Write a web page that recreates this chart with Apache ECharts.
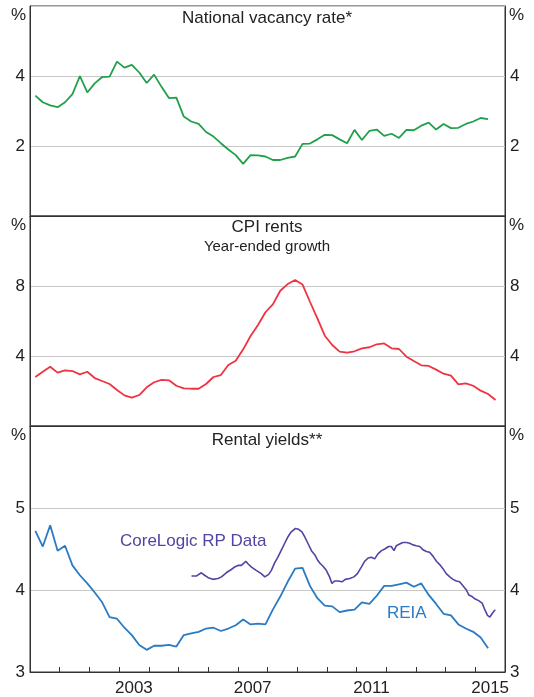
<!DOCTYPE html>
<html>
<head>
<meta charset="utf-8">
<script src="https://cdn.jsdelivr.net/npm/echarts@6/dist/echarts.min.js"></script>
<style>
  html, body { margin: 0; padding: 0; background: #fff; }
  #chart { width: 534px; height: 697px; }
</style>
</head>
<body>
<div id="chart"></div>
<script>
/** quarterly series start in March 2000 (decimal years) */
const quarterStart = 2000.18;

/** national vacancy rate, % */
const vacancyRate = [
  3.44, 3.25, 3.16, 3.11, 3.25, 3.48, 4.00, 3.53, 3.79, 3.97,
  3.98, 4.41, 4.24, 4.32, 4.10, 3.80, 4.04, 3.69, 3.37, 3.38,
  2.84, 2.70, 2.63, 2.40, 2.27, 2.08, 1.90, 1.74, 1.49, 1.74,
  1.73, 1.70, 1.60, 1.60, 1.66, 1.70, 2.06, 2.07, 2.19, 2.32,
  2.31, 2.19, 2.08, 2.46, 2.17, 2.43, 2.47, 2.29, 2.35, 2.23,
  2.46, 2.45, 2.58, 2.67, 2.47, 2.63, 2.51, 2.52, 2.63, 2.70,
  2.80, 2.77,
];

/** CPI rents, year-ended growth, % */
const cpiRents = [
  2.80, 3.10, 3.39, 3.05, 3.18, 3.14, 2.95, 3.10, 2.74, 2.57,
  2.40, 2.06, 1.75, 1.62, 1.77, 2.21, 2.50, 2.63, 2.61, 2.30,
  2.15, 2.13, 2.13, 2.40, 2.80, 2.91, 3.49, 3.73, 4.38, 5.14,
  5.77, 6.50, 6.95, 7.73, 8.11, 8.34, 8.08, 7.10, 6.15, 5.16,
  4.63, 4.25, 4.19, 4.27, 4.44, 4.50, 4.67, 4.72, 4.44, 4.40,
  3.96, 3.71, 3.47, 3.43, 3.22, 2.99, 2.88, 2.38, 2.44, 2.30,
  2.02, 1.83, 1.49,
];

/** REIA rental yield, % */
const reiaYield = [
  4.72, 4.53, 4.79, 4.48, 4.54, 4.30, 4.18, 4.08, 3.97, 3.85,
  3.67, 3.65, 3.54, 3.45, 3.33, 3.27, 3.32, 3.32, 3.33, 3.31,
  3.45, 3.47, 3.49, 3.53, 3.54, 3.50, 3.53, 3.57, 3.64, 3.58,
  3.59, 3.58, 3.76, 3.92, 4.10, 4.26, 4.27, 4.05, 3.90, 3.81,
  3.80, 3.73, 3.75, 3.76, 3.85, 3.83, 3.93, 4.05, 4.05, 4.07,
  4.09, 4.04, 4.08, 3.94, 3.83, 3.71, 3.69, 3.58, 3.53, 3.49,
  3.42, 3.29,
];

/** CoreLogic RP Data rental yield, irregular dates */
const coreLogicDates = [
  2005.44, 2005.60, 2005.77, 2005.88, 2006.00, 2006.16, 2006.33, 2006.45, 2006.61, 2006.78,
  2006.89, 2007.01, 2007.12, 2007.18, 2007.27, 2007.34, 2007.46, 2007.62, 2007.79, 2007.91,
  2008.04, 2008.13, 2008.24, 2008.35, 2008.47, 2008.58, 2008.69, 2008.80, 2008.94, 2009.05,
  2009.16, 2009.25, 2009.36, 2009.48, 2009.59, 2009.68, 2009.76, 2009.87, 2009.98, 2010.09,
  2010.17, 2010.26, 2010.38, 2010.51, 2010.62, 2010.77, 2010.91, 2011.03, 2011.16, 2011.27,
  2011.39, 2011.50, 2011.61, 2011.72, 2011.84, 2011.95, 2012.08, 2012.17, 2012.26, 2012.34,
  2012.45, 2012.56, 2012.68, 2012.79, 2012.90, 2013.01, 2013.13, 2013.24, 2013.35, 2013.46,
  2013.58, 2013.69, 2013.80, 2013.91, 2014.02, 2014.14, 2014.25, 2014.36, 2014.47, 2014.59,
  2014.64, 2014.70, 2014.78, 2014.89, 2015.00, 2015.11, 2015.23, 2015.32, 2015.41, 2015.49,
  2015.58, 2015.67,
];
const coreLogicYield = [
  4.17, 4.17, 4.21, 4.18, 4.15, 4.13, 4.14, 4.16, 4.21, 4.25,
  4.28, 4.30, 4.30, 4.32, 4.35, 4.32, 4.28, 4.24, 4.20, 4.16,
  4.19, 4.24, 4.33, 4.40, 4.49, 4.57, 4.65, 4.71, 4.75, 4.74,
  4.71, 4.65, 4.57, 4.48, 4.43, 4.37, 4.33, 4.29, 4.24, 4.16,
  4.08, 4.11, 4.11, 4.10, 4.13, 4.14, 4.16, 4.20, 4.28, 4.35,
  4.39, 4.40, 4.38, 4.44, 4.48, 4.50, 4.53, 4.53, 4.48, 4.54,
  4.56, 4.58, 4.58, 4.57, 4.55, 4.54, 4.53, 4.49, 4.47, 4.46,
  4.41, 4.35, 4.31, 4.26, 4.20, 4.16, 4.13, 4.11, 4.10, 4.05,
  4.07, 4.00, 3.94, 3.92, 3.89, 3.87, 3.84, 3.76, 3.69, 3.67,
  3.72, 3.76,
];

/** x-axis: ticks at each year start, labels mid-year */
const yearTicks = [2001, 2002, 2003, 2004, 2005, 2006, 2007, 2008, 2009, 2010, 2011, 2012, 2013, 2014, 2015];
const yearLabels = [2003, 2007, 2011, 2015];

/** y-axis labels per panel */
const vacancyTicks = [2, 4];
const cpiTicks = [4, 8];
const yieldTicks = [3, 4, 5];

const font = "'Liberation Sans', Arial, sans-serif";
const ink = "#222";
const frame = "#333";
const green = "#21a04a";
const red = "#ef3340";
const blue = "#2a7ac4";
const purple = "#5045a3";

const panels = [
  { top: 6, height: 210, min: 0, max: 6, interval: 2, labels: vacancyTicks },
  { top: 216, height: 210, min: 0, max: 12, interval: 4, labels: cpiTicks },
  { top: 426, height: 246, min: 3, max: 6, interval: 1, labels: yieldTicks },
];

const quarterly = (values) => values.map((v, i) => [quarterStart + 0.25 * i, v]);

const textStyle = (size, color) => ({
  fontSize: size,
  fontWeight: "normal",
  fontFamily: font,
  color: color || ink,
});

const option = {
  animation: false,
  backgroundColor: "#fff",
  grid: panels.map((p) => ({
    left: 30,
    right: 29,
    top: p.top,
    height: p.height,
    show: true,
    borderColor: frame,
    borderWidth: 1,
  })),

  xAxis: panels.map((p, i) => ({
    type: "value",
    gridIndex: i,
    min: 2000,
    max: 2016,
    axisLine: { show: true, lineStyle: { color: frame } },
    axisTick:
      i === 2
        ? { show: true, inside: true, length: 5, customValues: yearTicks, lineStyle: { color: frame } }
        : { show: false },
    axisLabel:
      i === 2
        ? {
            customValues: yearLabels.map((y) => y + 0.5),
            formatter: (v) => String(Math.floor(v)),
            margin: 8,
            ...textStyle(17),
          }
        : { show: false },
    splitLine: { show: false },
  })),

  yAxis: panels.flatMap((p, i) =>
    ["left", "right"].map((side) => ({
      type: "value",
      gridIndex: i,
      position: side,
      min: p.min,
      max: p.max,
      interval: p.interval,
      name: "%",
      nameLocation: "end",
      nameGap: -9,
      nameTextStyle: {
        ...textStyle(17),
        align: side === "left" ? "right" : "left",
        verticalAlign: "middle",
        padding: side === "left" ? [0, 4, 0, 0] : [0, 0, 0, 4],
      },
      axisLine: { show: true, lineStyle: { color: frame } },
      axisTick: { show: false },
      axisLabel: { customValues: p.labels, margin: 5, ...textStyle(17) },
      splitLine: { show: side === "left", lineStyle: { color: "#c8c8c8", width: 1 } },
    })),
  ),

  title: [
    { text: "National vacancy rate*", left: "center", top: 10, padding: 0, textStyle: textStyle(17) },
    { text: "CPI rents", left: "center", top: 219, padding: 0, textStyle: textStyle(17) },
    { text: "Year-ended growth", left: "center", top: 239, padding: 0, textStyle: textStyle(15) },
    { text: "Rental yields**", left: "center", top: 432, padding: 0, textStyle: textStyle(17) },
    { text: "CoreLogic RP Data", left: 120, top: 533, padding: 0, textStyle: textStyle(17, purple) },
    { text: "REIA", left: 387, top: 605, padding: 0, textStyle: textStyle(17, blue) },
  ],

  series: [
    {
      name: "Vacancy rate",
      type: "line",
      xAxisIndex: 0,
      yAxisIndex: 0,
      data: quarterly(vacancyRate),
      symbol: "none",
      lineStyle: { color: green, width: 1.8 },
    },
    {
      name: "CPI rents",
      type: "line",
      xAxisIndex: 1,
      yAxisIndex: 2,
      data: quarterly(cpiRents),
      symbol: "none",
      lineStyle: { color: red, width: 1.8 },
    },
    {
      name: "REIA",
      type: "line",
      xAxisIndex: 2,
      yAxisIndex: 4,
      data: quarterly(reiaYield),
      symbol: "none",
      lineStyle: { color: blue, width: 1.8 },
    },
    {
      name: "CoreLogic RP Data",
      type: "line",
      xAxisIndex: 2,
      yAxisIndex: 4,
      data: coreLogicDates.map((d, i) => [d, coreLogicYield[i]]),
      symbol: "none",
      lineStyle: { color: purple, width: 1.6 },
    },
  ],
};

const chart = echarts.init(document.getElementById("chart"), null, { renderer: "canvas" });
chart.setOption(option);
</script>
</body>
</html>
